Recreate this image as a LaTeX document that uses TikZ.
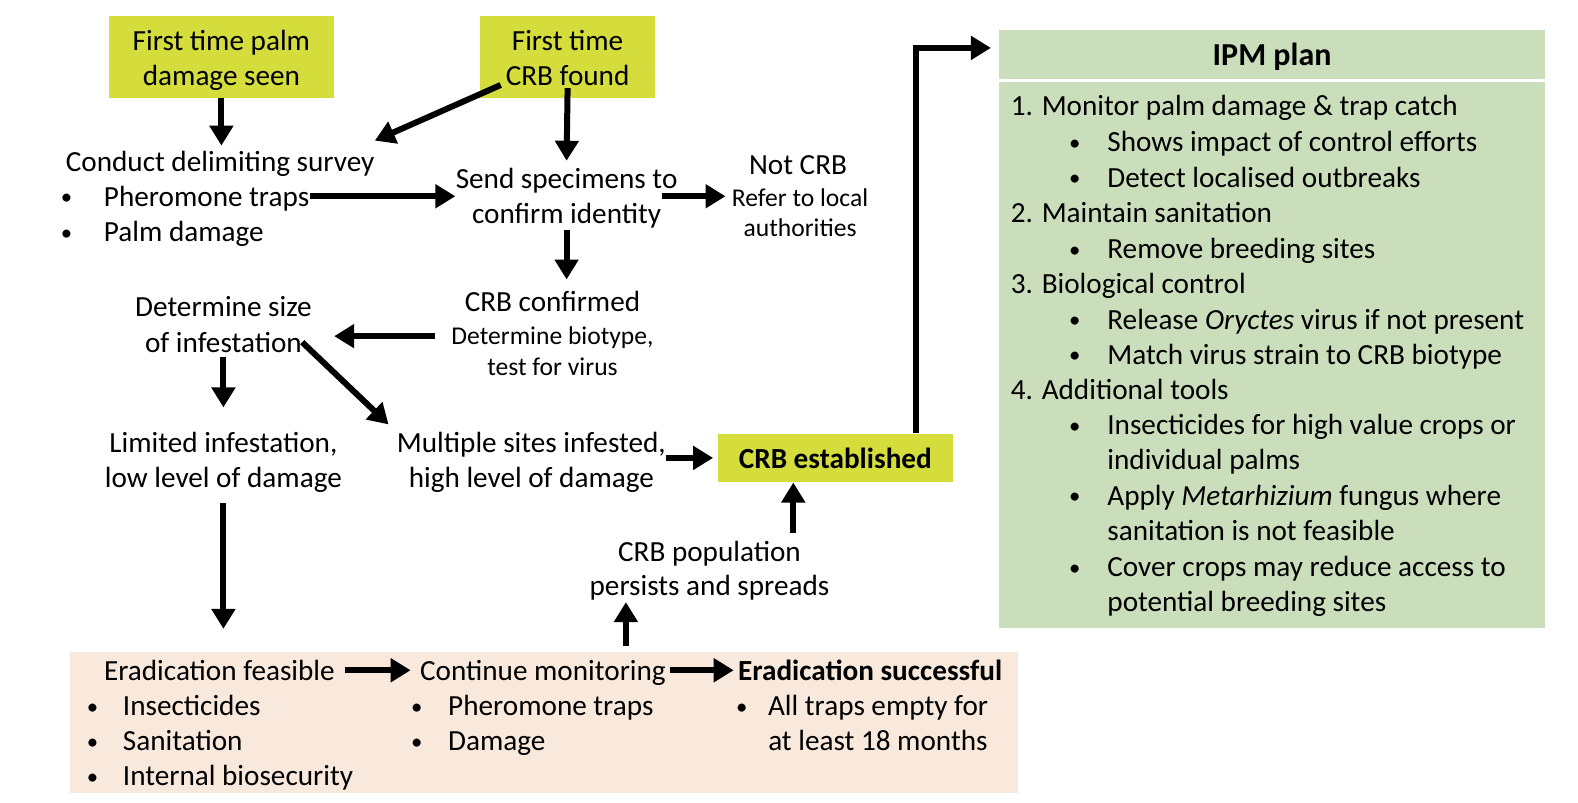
\documentclass[tikz,border=0pt]{standalone}
\usepackage{graphicx}
\usepackage{fontspec}
\setmainfont{Carlito}
\usetikzlibrary{arrows.meta,calc}
\definecolor{ylw}{RGB}{213,221,60}
\definecolor{grn}{RGB}{202,222,188}
\definecolor{bge}{RGB}{248,233,220}
\newcommand{\fbig}{\fontsize{14.6}{17.6}\selectfont}
\newcommand{\fsm}{\fontsize{12.8}{15.5}\selectfont}
\newcommand{\bul}[1]{\makebox[#1][l]{\raisebox{0.7pt}{\scalebox{0.78}{•}}}}
\begin{document}
\begin{tikzpicture}[x=0.5032pt,y=-0.5032pt,
  t/.style={inner sep=0pt, font=\fbig, text height=12pt, text depth=2pt},
  ts/.style={inner sep=0pt, font=\fsm, text height=10pt, text depth=2pt},
  lt/.style={t, anchor=west},
  arr/.style={line width=3pt, -{Triangle[length=10pt,width=11.5pt]}},
  ybox/.style={fill=ylw, inner sep=0pt, font=\fbig, align=center},
]
\useasboundingbox (0,0) rectangle (1568,797);

% backgrounds
\node[fill=bge, inner sep=0pt, minimum width=474pt, minimum height=70.9pt] (bg) at (541,718) {};
\node[fill=grn, inner sep=0pt, minimum width=272.7pt, minimum height=298.9pt] (ipm) at (1264,327) {};
\draw[white, line width=1.5pt] (ipm.west |- 0,80) -- (ipm.east |- 0,80);

% yellow boxes
\node[ybox, minimum width=112.7pt, minimum height=40.8pt] (b1) at (220,56.5) {};
\node[t] (b1a) at (220,40) {First time palm};
\node[t] (b1b) at (220,75) {damage seen};
\node[ybox, minimum width=87.6pt, minimum height=40.8pt] (b2) at (564,56.5) {};
\node[t] (b2a) at (564,40) {First time};
\node[t] (b2b) at (564,75) {CRB found};
\node[ybox, minimum width=117.8pt, minimum height=24.2pt] (est) at (830,455) {};
\node[t, font=\fbig\bfseries] (estt) at (830,456) {CRB established};

% left column
\node[lt] (survey) at (65,160) {Conduct delimiting survey};
\node[lt] (pher) at (60,195) {\bul{21.6pt}Pheromone traps};
\node[lt] (palm) at (60,230) {\bul{21.6pt}Palm damage};
\node[t] (size1) at (222,305) {Determine size};
\node[t] (size2) at (222,340) {of infestation};
\node[t] (lim1) at (222,440) {Limited infestation,};
\node[t] (lim2) at (222,474) {low level of damage};

% middle
\node[t] (send1) at (563,177) {Send specimens to};
\node[t] (send2) at (563,212) {confirm identity};
\node[t] (notcrb) at (793,163) {Not CRB};
\node[ts] (refer1) at (795,197) {Refer to local};
\node[ts] (refer2) at (795,227) {authorities};
\node[t] (conf) at (549,300) {CRB confirmed};
\node[ts] (bio1) at (549,334) {Determine biotype,};
\node[ts] (bio2) at (549,365) {test for virus};
\node[t] (mul1) at (528,440) {Multiple sites infested,};
\node[t] (mul2) at (528,474) {high level of damage};
\node[t] (pop1) at (705,548) {CRB population};
\node[t] (pop2) at (705,582) {persists and spreads};

% bottom band
\node[lt] (era) at (103,666) {Eradication feasible};
\node[lt] (e1) at (86,701) {\bul{18pt}Insecticides};
\node[lt] (e2) at (86,736) {\bul{18pt}Sanitation};
\node[lt] (e3) at (86,771) {\bul{18pt}Internal biosecurity};
\node[lt] (cont) at (417,666) {Continue monitoring};
\node[lt] (c1) at (408,701) {\bul{18.6pt}Pheromone traps};
\node[lt] (c2) at (408,736) {\bul{18.6pt}Damage};
\node[lt, font=\fbig\bfseries] (succ) at (733,666) {Eradication successful};
\node[lt] (s1) at (731,701) {\bul{16pt}All traps empty for};
\node[lt] (s2) at (763,736) {at least 18 months};

% IPM plan
\node[t, font=\fontsize{16}{19}\selectfont\bfseries] (ipmt) at (1264,55) {IPM plan};
\node[lt] (n1) at (1004,105) {1. Monitor palm damage \& trap catch};
\node[lt] (i1) at (1062,141) {\bul{19.1pt}Shows impact of control efforts};
\node[lt] (i2) at (1062,176) {\bul{19.1pt}Detect localised outbreaks};
\node[lt] (n2) at (1004,211) {2. Maintain sanitation};
\node[lt] (i3) at (1062,247) {\bul{19.1pt}Remove breeding sites};
\node[lt] (n3) at (1004,282) {3. Biological control};
\node[lt] (i4) at (1062,317) {\bul{19.1pt}Release \textit{Oryctes} virus if not present};
\node[lt] (i5) at (1062,352) {\bul{19.1pt}Match virus strain to CRB biotype};
\node[lt] (n4) at (1004,387) {4. Additional tools};
\node[lt] (i6) at (1062,422) {\bul{19.1pt}Insecticides for high value crops or};
\node[lt] (i6b) at (1100,457) {individual palms};
\node[lt] (i7) at (1062,492) {\bul{19.1pt}Apply \textit{Metarhizium} fungus where};
\node[lt] (i7b) at (1100,527) {sanitation is not feasible};
\node[lt] (i8) at (1062,563) {\bul{19.1pt}Cover crops may reduce access to};
\node[lt] (i8b) at (1100,598) {potential breeding sites};

% connectors
\draw[arr] (b1.south) -- ([yshift=0.5pt]b1.south |- survey.north);
\draw[arr] ($(b2.south west)+(21,-13)$) -- ([yshift=3pt]survey.north east);
\draw[arr] ([yshift=5pt]b2.south) -- ([yshift=1.5pt]send1.north);
\draw[arr] (pher.east) -- (pher.east -| send1.west);
\draw[arr] (send2.east |- pher.east) -- ([xshift=-3pt]refer1.west |- pher.east);
\draw[arr] ([yshift=-1pt]send2.south) -- ([yshift=4pt]send2.south |- conf.north);
\draw[arr] ([xshift=-8pt]bio1.west) -- ([xshift=16pt]size2.east |- bio1.west);
\draw[arr] (size2.south) -- ([yshift=10.5pt]lim1.north);
\draw[arr] (size2.east) -- ([shift={(-4pt,2pt)}]mul1.north west);
\draw[arr] (mul1.east |- est.west) -- ([xshift=-2pt]est.west);
\draw[arr] ([xshift=-21pt,yshift=2pt]est.south |- pop1.north) -- ([xshift=-21pt]est.south);
\draw[arr] ([xshift=-18.6pt]est.north east) |- ($(ipm.north west)+(-8,18)$);
\draw[arr] ([yshift=-6pt]lim2.south) -- ([yshift=13.5pt]lim2.south |- era.north);
\draw[arr] ([xshift=-41.8pt,yshift=5pt]pop2.south |- cont.north) -- ([xshift=-41.8pt,yshift=-1pt]pop2.south);
\draw[arr, shorten <=5pt, shorten >=4.5pt] (era.east) -- (cont.west);
\draw[arr, shorten <=2pt, shorten >=2pt] (cont.east) -- (succ.west);
\end{tikzpicture}
\end{document}
